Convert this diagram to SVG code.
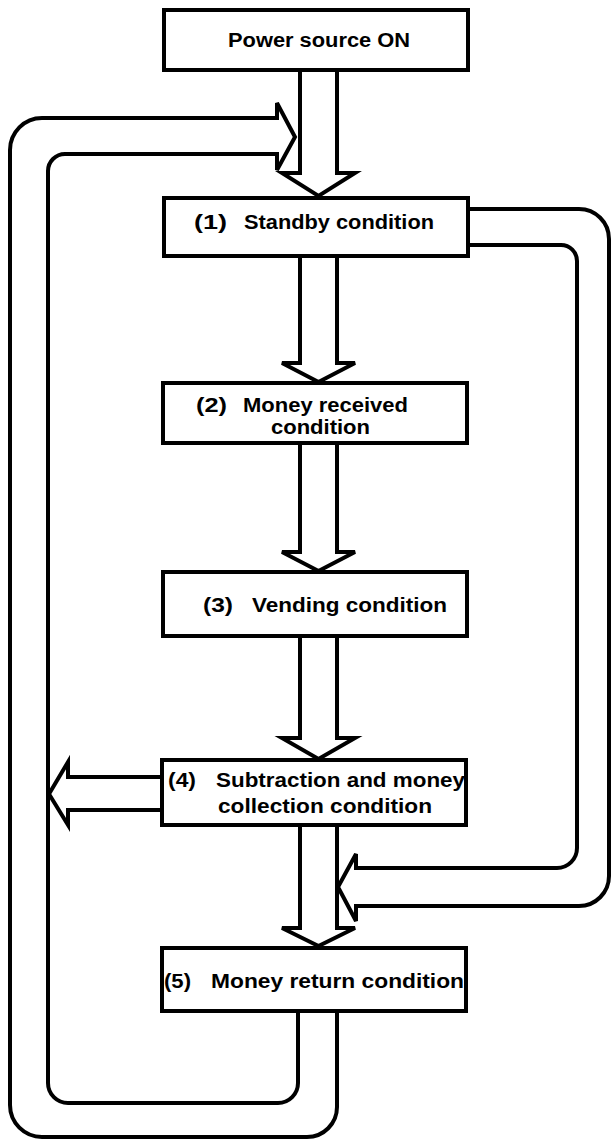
<svg xmlns="http://www.w3.org/2000/svg" width="612" height="1140" viewBox="0 0 612 1140">
  <style>
    .box { fill: #ffffff; stroke: #000000; stroke-width: 4; }
    .conn { fill: none; stroke: #000000; stroke-width: 4; stroke-linejoin: miter; stroke-linecap: square; }
    .lbl { font-family: "Liberation Sans", Arial, sans-serif; font-weight: bold; font-size: 20px; fill: #000000; }
  </style>
  <rect width="612" height="1140" fill="#ffffff"/>

  <!-- Hollow double-line connectors -->
  <g id="connectors">
    <!-- straight flow arrows down the centre -->
    <polyline class="conn" points="300,71 300,173 282,173 318.5,196 355,173 337,173 337,71"/>
    <polyline class="conn" points="300,257 300,363 282,363 318.5,382 355,363 337,363 337,257"/>
    <polyline class="conn" points="300,444 300,552 282,552 318.5,571 355,552 337,552 337,444"/>
    <polyline class="conn" points="300,637 300,738 282,738 318.5,759 355,738 337,738 337,637"/>
    <polyline class="conn" points="300,826 300,928 282,928 318.5,946 355,928 337,928 337,826"/>

    <!-- return loop: from (5) back round the left side to (1) -->
    <path class="conn" d="M337,1012 V1107 A30,30 0 0 1 307,1137 H42 A32,32 0 0 1 10,1105 V150 A32,32 0 0 1 42,118 H277 V103 L295,137 L277,170 V154 H65 A17,17 0 0 0 48,171 V1083 A20,20 0 0 0 68,1103 H278 A20,20 0 0 0 298,1083 V1012"/>

    <!-- branch from (1) round the right side to (5) -->
    <path class="conn" d="M468,209 H579 A30,30 0 0 1 609,239 V876 A30,30 0 0 1 579,906 H356 V921 L338,887 L356,854 V868 H557 A20,20 0 0 0 577,848 V261 A16,16 0 0 0 561,245 H468"/>

    <!-- branch from (4) out to the left loop -->
    <polyline class="conn" points="162,777 68,777 68,762 49,794 68,825 68,810 162,810"/>
  </g>

  <g id="node-power">
    <rect class="box" x="164" y="10" width="304" height="60"/>
    <text class="lbl" x="228" y="47" textLength="182" lengthAdjust="spacingAndGlyphs">Power source ON</text>
  </g>

  <g id="node-standby">
    <rect class="box" x="164" y="198" width="304" height="58"/>
    <text class="lbl" x="194" y="229" textLength="33" lengthAdjust="spacingAndGlyphs">(1)</text>
    <text class="lbl" x="244" y="229" textLength="190" lengthAdjust="spacingAndGlyphs">Standby condition</text>
  </g>

  <g id="node-money-received">
    <rect class="box" x="163" y="383" width="304" height="60"/>
    <text class="lbl" x="196" y="412" textLength="31" lengthAdjust="spacingAndGlyphs">(2)</text>
    <text class="lbl" x="243" y="412" textLength="165" lengthAdjust="spacingAndGlyphs">Money received</text>
    <text class="lbl" x="271" y="434" textLength="99" lengthAdjust="spacingAndGlyphs">condition</text>
  </g>

  <g id="node-vending">
    <rect class="box" x="163" y="572" width="304" height="64"/>
    <text class="lbl" x="203" y="612" textLength="30" lengthAdjust="spacingAndGlyphs">(3)</text>
    <text class="lbl" x="252" y="612" textLength="195" lengthAdjust="spacingAndGlyphs">Vending condition</text>
  </g>

  <g id="node-subtraction">
    <rect class="box" x="162" y="760" width="304" height="65"/>
    <text class="lbl" x="168" y="787" textLength="28" lengthAdjust="spacingAndGlyphs">(4)</text>
    <text class="lbl" x="216" y="787" textLength="249" lengthAdjust="spacingAndGlyphs">Subtraction and money</text>
    <text class="lbl" x="218" y="813" textLength="214" lengthAdjust="spacingAndGlyphs">collection condition</text>
  </g>

  <g id="node-money-return">
    <rect class="box" x="162" y="948" width="304" height="63"/>
    <text class="lbl" x="164" y="988" textLength="27" lengthAdjust="spacingAndGlyphs">(5)</text>
    <text class="lbl" x="211" y="988" textLength="253" lengthAdjust="spacingAndGlyphs">Money return condition</text>
  </g>
</svg>
